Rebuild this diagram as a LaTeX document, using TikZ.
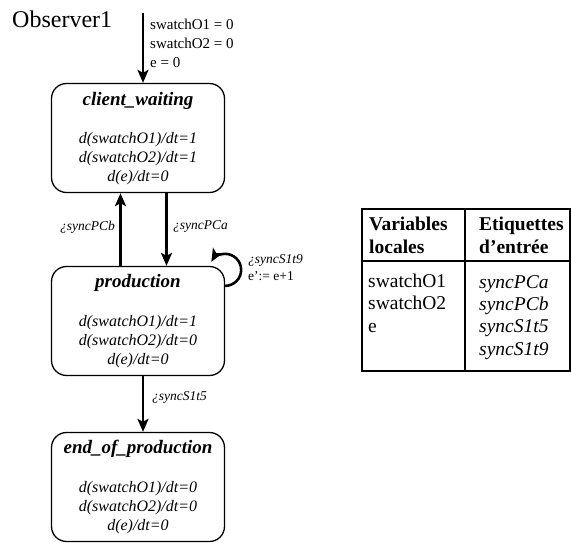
\documentclass[tikz,border=0pt]{standalone}
\usepackage{fontspec}
\setmainfont{Liberation Serif}
\usetikzlibrary{arrows.meta,calc}
\tikzset{
  st/.style={draw,line width=1.3pt,rounded corners=15pt,minimum width=173pt,minimum height=109pt,inner sep=0pt},
  tr/.style={line width=2.6pt,-{Stealth[length=13pt,width=11pt,inset=3pt]}},
  nm/.style={inner sep=0pt,font=\fontsize{19}{23}\selectfont\bfseries\itshape},
  eq/.style={inner sep=0pt,align=center,font=\fontsize{16}{19}\selectfont\itshape},
  lb/.style={inner sep=0pt,font=\fontsize{13.5}{17}\selectfont\itshape},
  asg/.style={inner sep=0pt,align=left,font=\fontsize{15}{19.5}\selectfont},
  tb/.style={inner sep=0pt,align=left,font=\fontsize{19.5}{22.3}\selectfont},
  tbi/.style={inner sep=0pt,align=left,font=\fontsize{19.5}{22.3}\selectfont\itshape},
  tbh/.style={inner sep=0pt,align=left,font=\fontsize{19.5}{23}\selectfont\bfseries},
  rl/.style={line width=1.3pt}
}
\newcommand{\rate}[2]{d(#1)/dt=#2}

\begin{document}
\begin{tikzpicture}[x=1pt,y=1pt]
\useasboundingbox (0,0) rectangle (571,-543);
\node[anchor=base west,inner sep=0pt,font=\fontsize{24}{28}\selectfont] (obs) at (12,-28) {Observer1};
% states
\node[st] (cw) at (138,-138) {};
\node[st] (pr) at (138,-321) {};
\node[st] (ep) at (138,-487) {};
\node[nm,anchor=base] (cwn) at ($(cw.north)+(0,-23)$) {client\_waiting};
\node[nm,anchor=base] (prn) at ($(pr.north)+(0,-22)$) {production};
\node[nm,anchor=base] (epn) at ($(ep.north)+(0,-22)$) {end\_of\_production};
\node[eq,anchor=base] (cwe) at ($(cw.north)+(0,-99)$) {\rate{swatchO1}{1}\\\rate{swatchO2}{1}\\\rate{e}{0}};
\node[eq,anchor=base] (pre) at ($(pr.north)+(0,-99)$) {\rate{swatchO1}{1}\\\rate{swatchO2}{0}\\\rate{e}{0}};
\node[eq,anchor=base] (epe) at ($(ep.north)+(0,-99)$) {\rate{swatchO1}{0}\\\rate{swatchO2}{0}\\\rate{e}{0}};
% transitions
\coordinate (i0) at (143,-13);
\draw[tr] (i0) -- (i0 |- cw.north);
\node[asg,anchor=base west] (ini) at (150,-68) {swatchO1 = 0\\swatchO2 = 0\\e = 0};
\draw[tr] ($(pr.north)+(-17.5,0)$) -- ($(cw.south)+(-17.5,0)$);
\node[lb,anchor=base east] (pcb) at (115,-230) {¿syncPCb};
\draw[tr] ($(cw.south)+(28.5,0)$) -- ($(pr.north)+(28.5,0)$);
\node[lb,anchor=base west] (pca) at (173,-229) {¿syncPCa};
\draw[tr] ($(pr.north east)+(0,-20)$) arc[start angle=-90,end angle=150,radius=16];
\node[lb,anchor=base west,align=left] (s19) at (248,-280) {¿syncS1t9\\\upshape e':= e+1};
\draw[tr] ($(pr.south)+(5,0)$) -- ($(ep.north)+(5,0)$);
\node[lb,anchor=base west] (s15) at (152,-400) {¿syncS1t5};
% table
\draw[rl] (362,-209) rectangle (570,-371);
\draw[rl] (465,-209) -- (465,-371);
\draw[rl] (362,-261) -- (570,-261);
\node[tbh,anchor=base west] (hv) at (369,-253) {Variables\\locales};
\node[tbh,anchor=base west] (he) at (479,-253) {Etiquettes\\d'entrée};
\node[tb,anchor=base west] (vv) at (368,-332) {swatchO1\\swatchO2\\e};
\node[tbi,anchor=base west] (ve) at (479,-355) {syncPCa\\syncPCb\\syncS1t5\\syncS1t9};
\end{tikzpicture}
\end{document}
